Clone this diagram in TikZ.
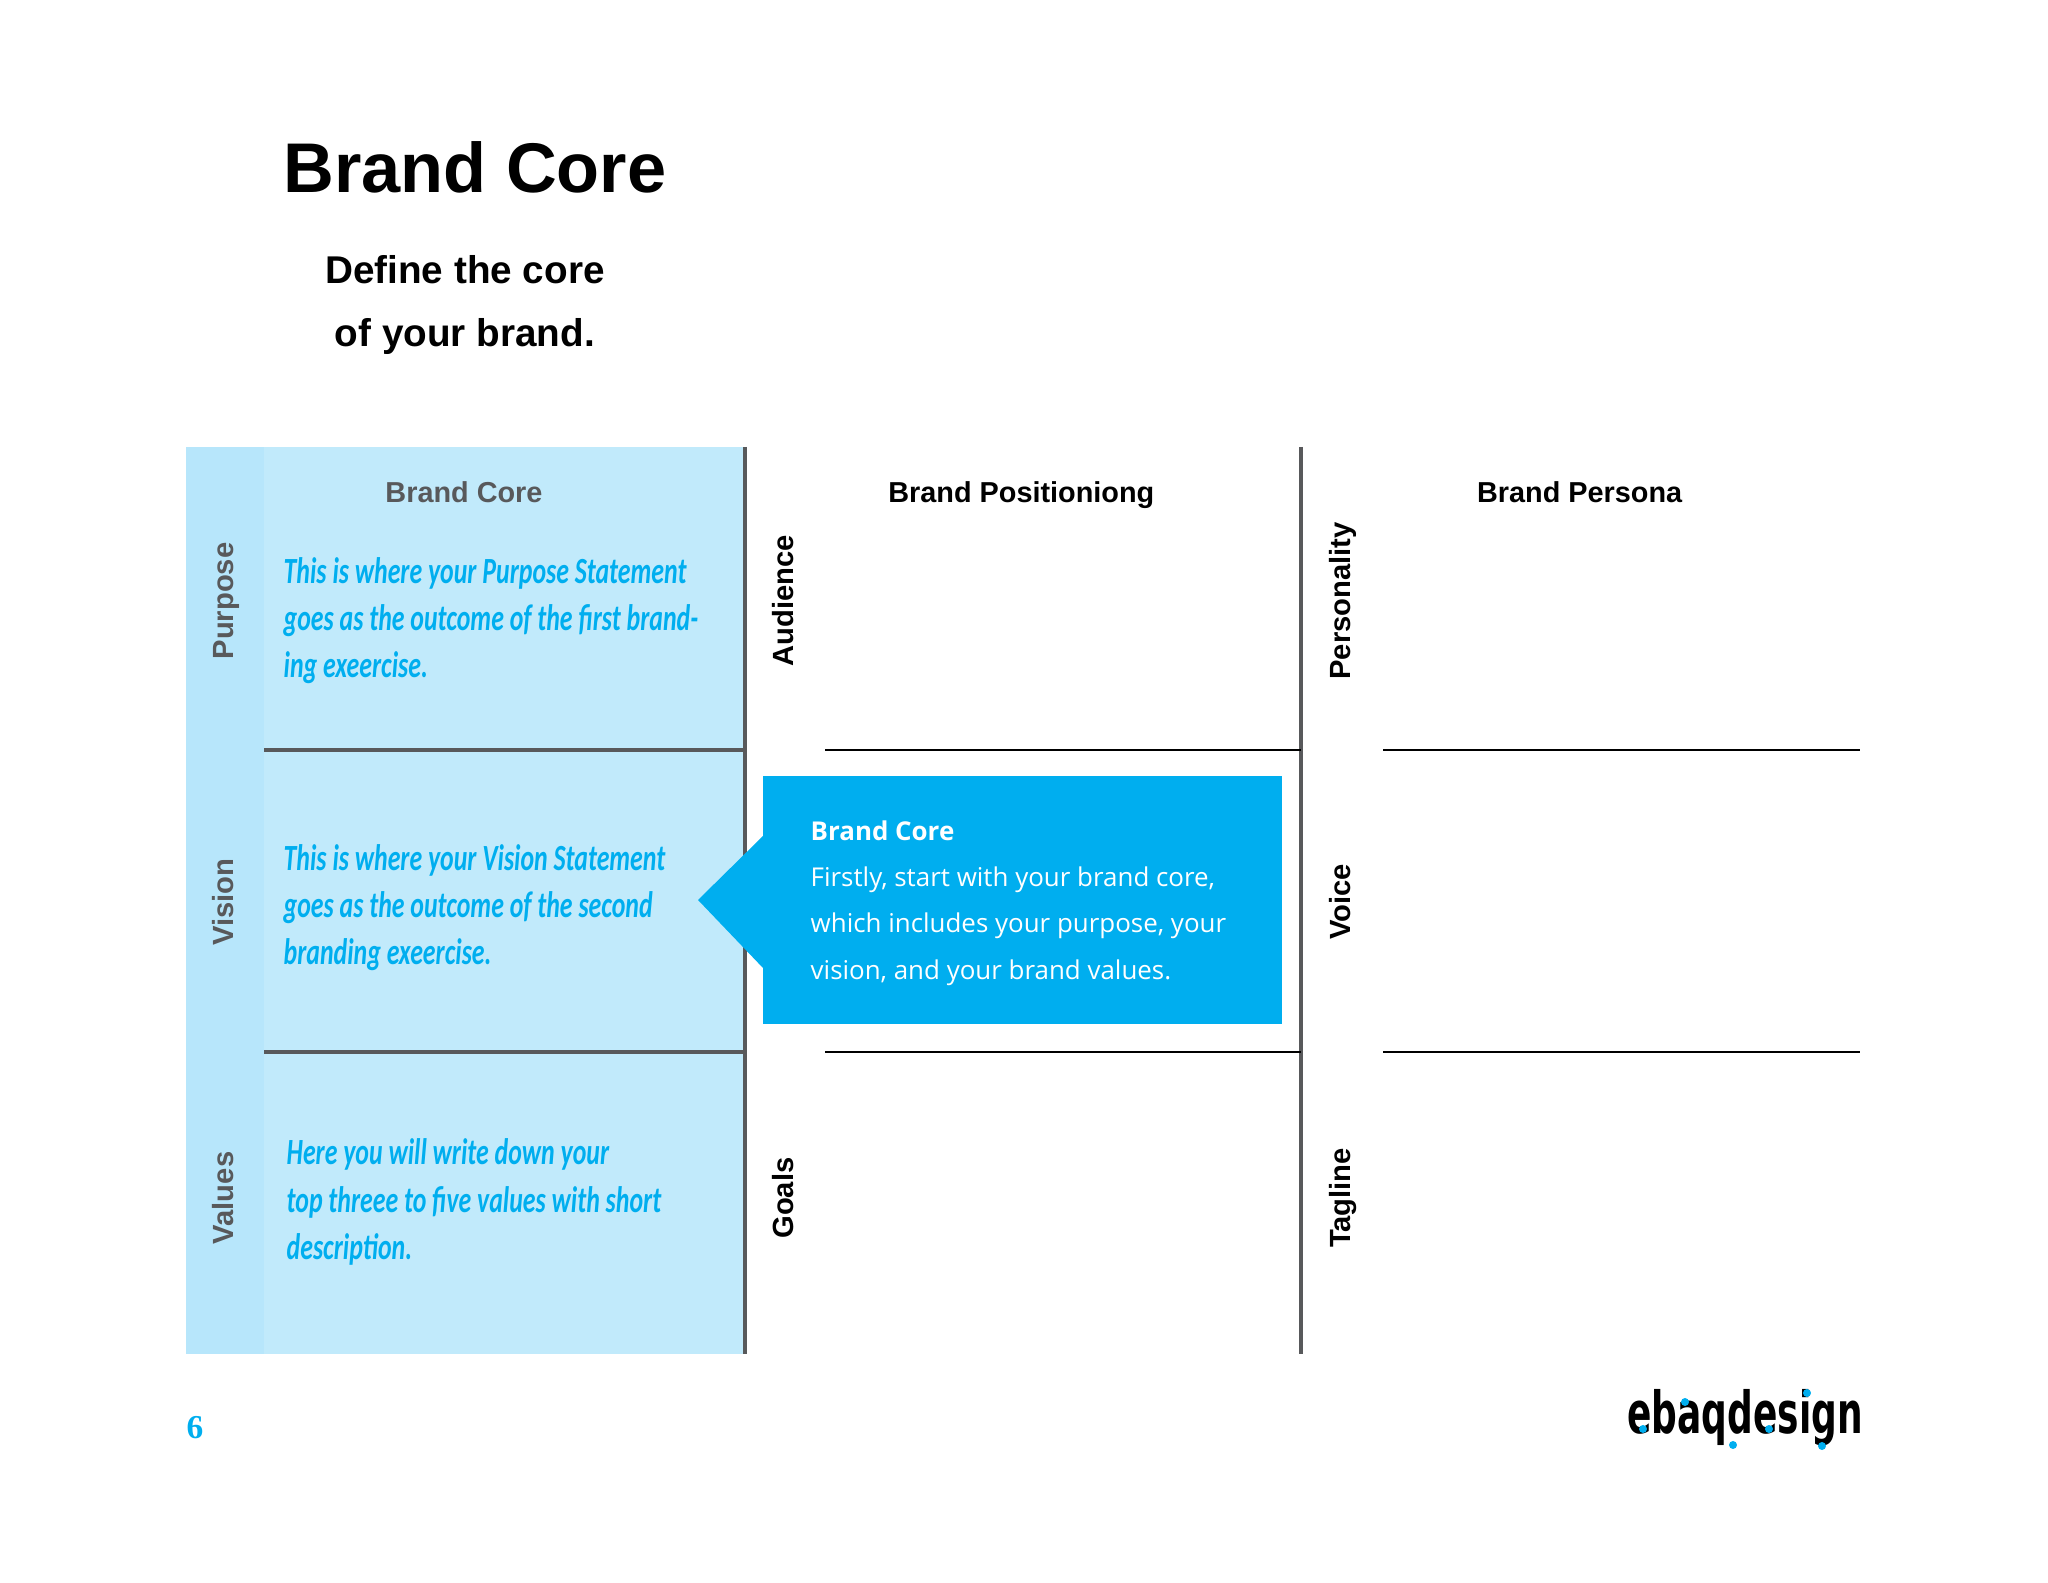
\documentclass[tikz,border=0pt]{standalone}
\usepackage{fontspec}
\setmainfont{Liberation Sans}
\newfontfamily\calloutfont{Open Sans}
\newfontfamily\handfont[FakeStretch=0.70]{Carlito}
\newfontfamily\logofont[FakeStretch=0.62]{DejaVu Sans}
\newfontfamily\pagefont{Liberation Serif}
\definecolor{panelblue}{HTML}{C1EAFB}
\definecolor{sideblue}{HTML}{B7E6FB}
\definecolor{brandblue}{HTML}{00AEEF}
\definecolor{rulegrey}{HTML}{58595B}

\begin{document}
\begin{tikzpicture}[x=0.01cm,y=-0.01cm,
    heading/.style={text height=1.5ex,text depth=0.4ex,font=\bfseries\fontsize{8.2}{10}\selectfont},
    sidelabel/.style={rotate=90,text height=1.5ex,text depth=0.4ex,font=\bfseries\fontsize{8.3}{10}\selectfont},
    note/.style={anchor=west,align=left,text=brandblue,inner sep=0pt,
      font=\handfont\itshape\bfseries\fontsize{10.5}{13.4}\selectfont},
    greyrule/.style={draw=rulegrey,line width=0.9pt},
    blackrule/.style={draw=black,line width=0.8pt},
    callout/.style={fill=brandblue,minimum width=5.19cm,minimum height=2.48cm,inner sep=0pt},
    callouttext/.style={anchor=west,text=white,align=left,inner sep=0pt,
      font=\calloutfont\fontsize{7.37}{13.2}\selectfont}]
    \useasboundingbox (0,0) rectangle (2048,1583);

    \fill[panelblue] (264,447) rectangle (745,1354);
    \fill[sideblue]  (186,447) rectangle (264,1354);

    \node[font=\bfseries\fontsize{20}{24}\selectfont] (title) at (475,167) {Brand Core};
    \node[align=center,font=\bfseries\fontsize{11}{17.8}\selectfont] (subtitle) at (465,305) {Define the core\\of your brand.};

    \node[heading,text=rulegrey]  (hcore)               at (464,492) {Brand Core};
    \node[heading,right of=hcore,node distance=5.57cm] (hpos)     {Brand Positioniong};
    \node[heading,right of=hpos,node distance=5.58cm]  (hpersona) {Brand Persona};

    \node[sidelabel,text=rulegrey] (purpose) at (223,601)  {Purpose};
    \node[sidelabel,text=rulegrey] (vision)  at (223,902)  {Vision};
    \node[sidelabel,text=rulegrey] (values)  at (223,1198) {Values};
    \node[sidelabel] (audience)    at (783,601)  {Audience};
    \node[sidelabel] (goals)       at (783,1198) {Goals};
    \node[sidelabel] (personality) at (1340,601) {Personality};
    \node[sidelabel] (voice)       at (1340,902) {Voice};
    \node[sidelabel] (tagline)     at (1340,1198) {Tagline};

    \node[note] (notepurpose) at (283,621)  {This is where your Purpose Statement\\goes as the outcome of the first brand-\\ing exeercise.};
    \node[note] (notevision)  at (283,908)  {This is where your Vision Statement\\goes as the outcome of the second\\branding exeercise.};
    \node[note] (notevalues)  at (286,1202) {Here you will write down your\\top threee to five values with short\\description.};

    \coordinate (a1) at (745,447);  \coordinate (a2) at (745,1354);
    \coordinate (b1) at (1301,447); \coordinate (b2) at (1301,1354);
    \coordinate (c1) at (264,750);  \coordinate (c2) at (745,750);
    \coordinate (d1) at (264,1052); \coordinate (d2) at (745,1052);
    \coordinate (e1) at (825,750);  \coordinate (e2) at (1301,750);
    \coordinate (f1) at (825,1052); \coordinate (f2) at (1301,1052);
    \coordinate (g1) at (1383,750); \coordinate (g2) at (1860,750);
    \coordinate (h1) at (1383,1052); \coordinate (h2) at (1860,1052);

    \draw[greyrule] (a1) -- (a2);
    \draw[greyrule] (b1) -- (b2);
    \draw[greyrule] (c1) -- (c2);
    \draw[greyrule] (d1) -- (d2);
    \draw[blackrule] (e1) -- (e2);
    \draw[blackrule] (f1) -- (f2);
    \draw[blackrule] (g1) -- (g2);
    \draw[blackrule] (h1) -- (h2);

    \node[callout] (box) at (1022.5,900) {};
    \fill[brandblue] (763,836) -- (698,900) -- (763,968) -- cycle;
    \node[callouttext] (boxtext) at (810,903) {{\bfseries Brand Core}\\Firstly, start with your brand core,\\which includes your purpose, your\\vision, and your brand values.};

    \node[text=brandblue,font=\pagefont\bfseries\fontsize{9.5}{11}\selectfont] (pagenum) at (195,1428) {6};

    % logo with its dots
    \node[font=\logofont\bfseries\fontsize{16.5}{18}\selectfont] (logo) at (1745,1418) {ebaqdesign};
    \foreach \dotx/\doty in {1643/1429,1685/1402,1733/1445,1769/1429,1807/1393,1822/1446}
      \fill[brandblue] (\dotx,\doty) circle (0.04cm);
\end{tikzpicture}
\end{document}
